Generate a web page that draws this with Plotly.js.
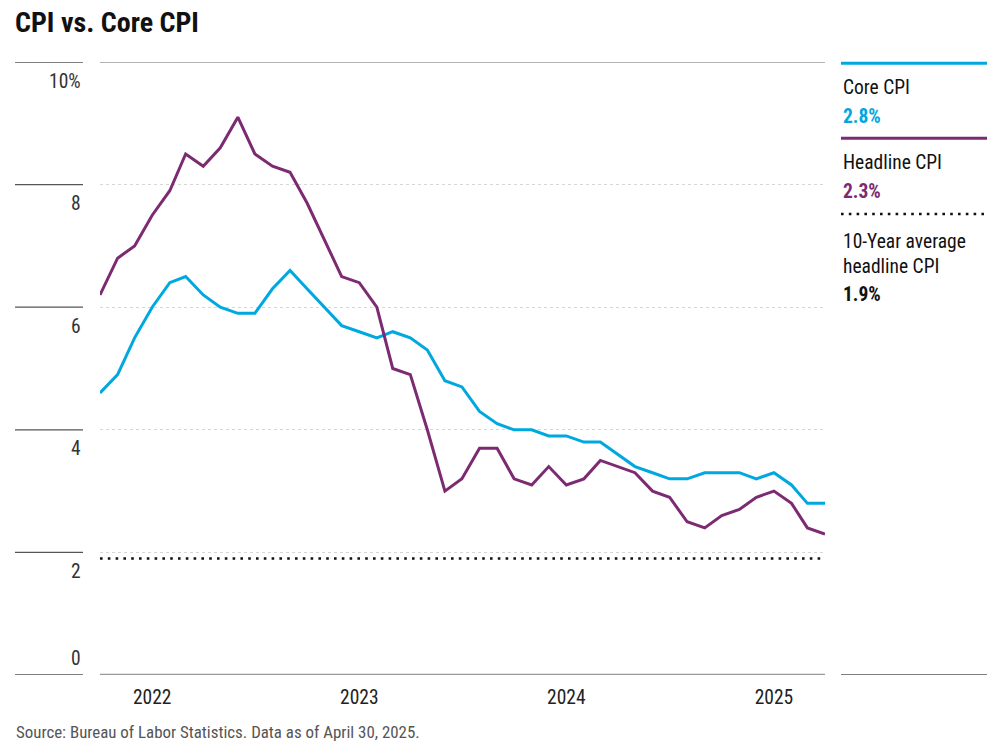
<!DOCTYPE html>
<html>
<head>
<meta charset="utf-8">
<script src="https://cdn.plot.ly/plotly-3.0.1.min.js"></script>
<style>html,body{margin:0;padding:0;background:#fff;}#chart{width:1003px;height:748px;}</style>
</head>
<body>
<div id="chart"></div>
<script>
// ---- data ----
const months = [
  "2021-10-01","2021-11-01","2021-12-01",
  "2022-01-01","2022-02-01","2022-03-01","2022-04-01","2022-05-01","2022-06-01","2022-07-01","2022-08-01","2022-09-01","2022-10-01","2022-11-01","2022-12-01",
  "2023-01-01","2023-02-01","2023-03-01","2023-04-01","2023-05-01","2023-06-01","2023-07-01","2023-08-01","2023-09-01","2023-10-01","2023-11-01","2023-12-01",
  "2024-01-01","2024-02-01","2024-03-01","2024-04-01","2024-05-01","2024-06-01","2024-07-01","2024-08-01","2024-09-01","2024-10-01","2024-11-01","2024-12-01",
  "2025-01-01","2025-02-01","2025-03-01","2025-04-01"
];
const headlineCPI = [
  6.2, 6.8, 7.0,
  7.5, 7.9, 8.5, 8.3, 8.6, 9.1, 8.5, 8.3, 8.2, 7.7, 7.1, 6.5,
  6.4, 6.0, 5.0, 4.9, 4.0, 3.0, 3.2, 3.7, 3.7, 3.2, 3.1, 3.4,
  3.1, 3.2, 3.5, 3.4, 3.3, 3.0, 2.9, 2.5, 2.4, 2.6, 2.7, 2.9,
  3.0, 2.8, 2.4, 2.3
];
const coreCPI = [
  4.6, 4.9, 5.5,
  6.0, 6.4, 6.5, 6.2, 6.0, 5.9, 5.9, 6.3, 6.6, 6.3, 6.0, 5.7,
  5.6, 5.5, 5.6, 5.5, 5.3, 4.8, 4.7, 4.3, 4.1, 4.0, 4.0, 3.9,
  3.9, 3.8, 3.8, 3.6, 3.4, 3.3, 3.2, 3.2, 3.3, 3.3, 3.3, 3.2,
  3.3, 3.1, 2.8, 2.8
];
const tenYearAvg = 1.9;
const yTickVals = [0, 2, 4, 6, 8, 10];
const yTickText = ["0", "2", "4", "6", "8", "10%"];
const xTickVals = ["2022-01-01", "2023-01-01", "2024-01-01", "2025-01-01"];
const xTickText = ["2022", "2023", "2024", "2025"];
const seriesNames = ["Core CPI", "Headline CPI", "10-Year average<br>headline CPI"];

// ---- style ----
const FONT = '"Roboto Condensed", Roboto, sans-serif';
const CYAN = "#00a8e0";
const PURPLE = "#7c2b72";
const W = 1003, H = 748;
const L = 100, R = 825, T = 62, B = 675;
const px2x = p => (p - L) / (R - L);
const py2y = p => (B - p) / (B - T);

const traces = [
  {x: months, y: coreCPI, type: "scatter", mode: "lines", line: {color: CYAN, width: 3}, hoverinfo: "skip"},
  {x: months, y: headlineCPI, type: "scatter", mode: "lines", line: {color: PURPLE, width: 3}, hoverinfo: "skip"},
  {x: [months[0], months[months.length - 1]], y: [tenYearAvg, tenYearAvg], type: "scatter", mode: "lines",
   line: {color: "#111", width: 2.6, dash: "2.6px,5.2px"}, hoverinfo: "skip"}
];

const shapes = [];
yTickVals.forEach(v => {
  shapes.push({type: "line", xref: "paper", yref: "y", x0: px2x(15), x1: px2x(83), y0: v, y1: v,
    line: {color: "#555", width: 1.3}});
});
shapes.push({type: "line", xref: "paper", yref: "y", x0: 0, x1: 1, y0: yTickVals[yTickVals.length - 1], y1: yTickVals[yTickVals.length - 1],
  line: {color: "#999", width: 1.3}});
shapes.push({type: "line", xref: "paper", yref: "y", x0: 0, x1: 1, y0: 0, y1: 0,
  line: {color: "#999", width: 2.6}});
shapes.push({type: "line", xref: "paper", yref: "y", x0: px2x(841), x1: px2x(987), y0: 0, y1: 0,
  line: {color: "#555", width: 1.3}});
shapes.push({type: "line", xref: "paper", yref: "paper", x0: px2x(841), x1: px2x(987), y0: py2y(63.3), y1: py2y(63.3),
  line: {color: CYAN, width: 3}});
shapes.push({type: "line", xref: "paper", yref: "paper", x0: px2x(841), x1: px2x(987), y0: py2y(138.3), y1: py2y(138.3),
  line: {color: PURPLE, width: 3}});
shapes.push({type: "line", xref: "paper", yref: "paper", x0: px2x(841), x1: px2x(987), y0: py2y(214), y1: py2y(214),
  line: {color: "#111", width: 2.6, dash: "2.6px,5.2px"}});

const fmt = v => v.toFixed(1) + "%";
const legendX = px2x(841);
const ann = (text, ypx, color, bold) => ({
  xref: "paper", yref: "paper", x: legendX, y: py2y(ypx), xanchor: "left", yanchor: "middle",
  text: bold ? "<b>" + text + "</b>" : text, showarrow: false, align: "left",
  font: {family: FONT, size: 19.5, color: color}
});

const annotations = [
  ann(seriesNames[0], 87, "#111", false),
  ann(fmt(coreCPI[coreCPI.length - 1]), 116, CYAN, true),
  ann(seriesNames[1], 162.5, "#111", false),
  ann(fmt(headlineCPI[headlineCPI.length - 1]), 191.5, PURPLE, true),
  {xref: "paper", yref: "paper", x: legendX, y: py2y(254), xanchor: "left", yanchor: "middle",
   text: seriesNames[2], showarrow: false, align: "left",
   font: {family: FONT, size: 19.5, color: "#111"}},
  ann(fmt(tenYearAvg), 294.5, "#111", true),
  ...yTickVals.map((v, i) => ({
    xref: "paper", yref: "y", x: px2x(83), y: v, xanchor: "right", yanchor: "middle",
    yshift: v === 0 ? 17 : -19, text: yTickText[i], showarrow: false,
    font: {family: FONT, size: 19.5, color: "#333"}
  })),
  {xref: "paper", yref: "paper", x: px2x(14), y: py2y(731.5), xanchor: "left", yanchor: "middle",
   text: "Source: Bureau of Labor Statistics. Data as of April 30, 2025.", showarrow: false,
   font: {family: FONT, size: 16.9, color: "#555"}}
];

const layout = {
  width: W, height: H,
  margin: {l: L, r: W - R, t: T, b: H - B, pad: 0},
  paper_bgcolor: "#fff", plot_bgcolor: "#fff",
  showlegend: false,
  title: {text: "<b>CPI vs. Core CPI</b>", x: 15 / W, xanchor: "left", xref: "container",
          y: 1 - 22 / H, yanchor: "middle", yref: "container",
          font: {family: FONT, size: 28, color: "#111"}},
  xaxis: {type: "date", range: [months[0], months[months.length - 1]],
          tickvals: xTickVals, ticktext: xTickText, ticks: "", showgrid: false, zeroline: false,
          showline: false, ticklabelstandoff: 8,
          tickfont: {family: FONT, size: 19.5, color: "#222"}},
  yaxis: {range: [yTickVals[0], yTickVals[yTickVals.length - 1]], tickvals: yTickVals,
          showticklabels: false, ticks: "", showgrid: true, gridcolor: "#d6d6d6", griddash: "dot",
          gridwidth: 1, zeroline: false, showline: false},
  shapes: shapes,
  annotations: annotations
};

Plotly.newPlot("chart", traces, layout, {displayModeBar: false, staticPlot: true});
</script>
</body>
</html>
